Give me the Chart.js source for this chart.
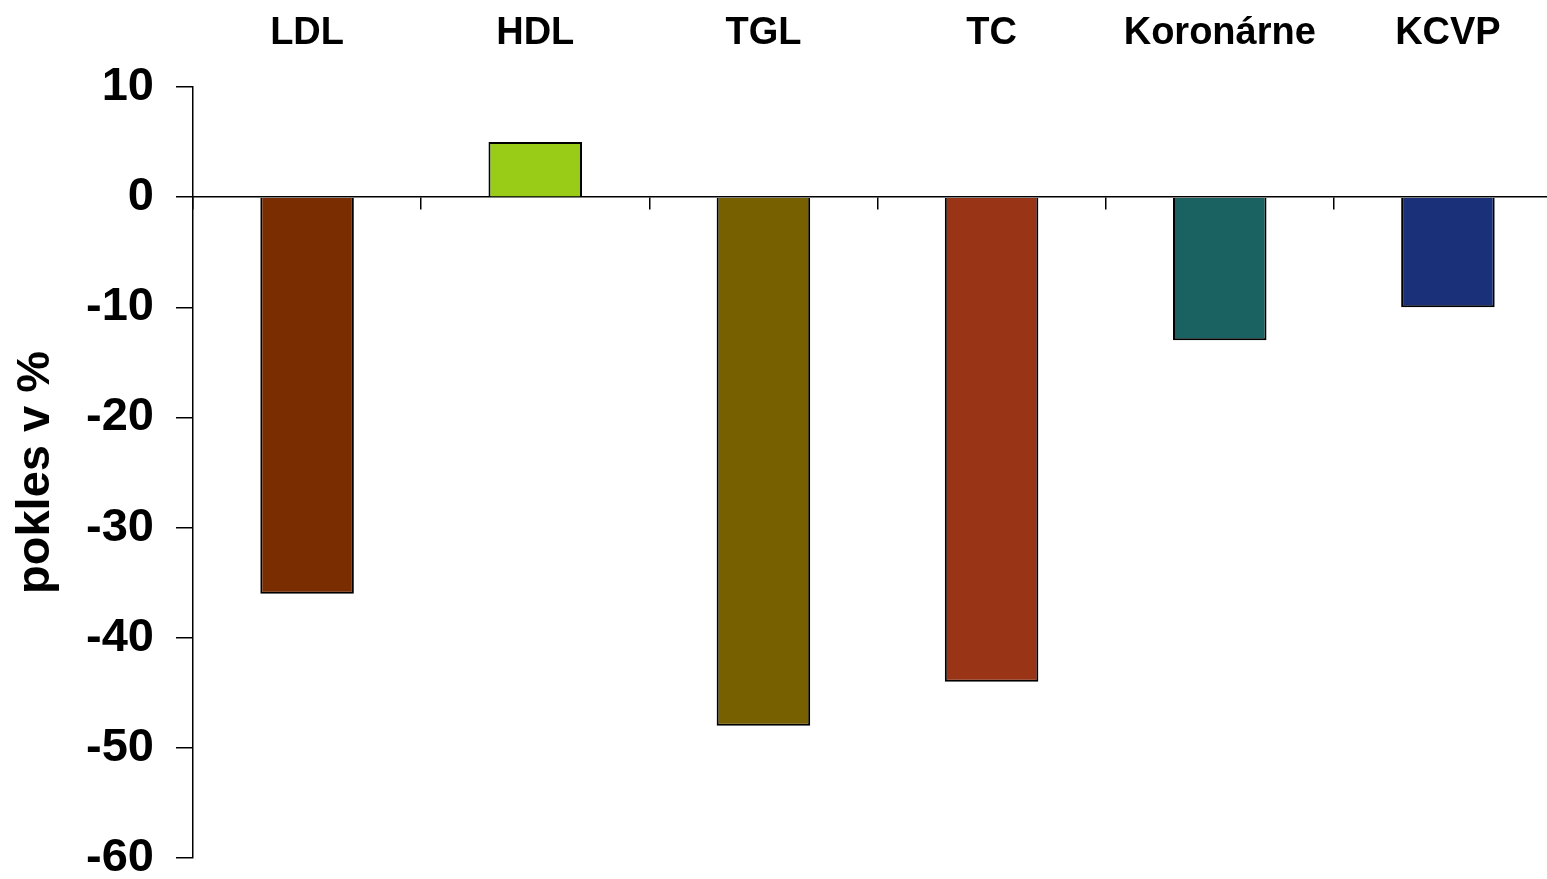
<!DOCTYPE html>
<html>
<head>
<meta charset="utf-8">
<title>pokles v %</title>
<script src="https://cdn.jsdelivr.net/npm/chart.js@4/dist/chart.umd.min.js"></script>
<style>
  html, body { margin: 0; padding: 0; background: #ffffff; overflow: hidden; }
  #wrap { position: relative; width: 1562px; height: 879px; }
</style>
</head>
<body>
<div id="wrap"><canvas id="chart"></canvas></div>
<script>
// Categories and percentage change per marker
const categories = ['LDL', 'HDL', 'TGL', 'TC', 'Koronárne', 'KCVP'];
const changes = [-36, 5, -48, -44, -13, -10];
const barColors = ['#792d00', '#99cc16', '#776000', '#993516', '#1a6161', '#1a3079'];
const yTicks = [10, 0, -10, -20, -30, -40, -50, -60];
const yTitle = 'pokles v %';

const FONT = "'Liberation Sans', Arial, Helvetica, sans-serif";

new Chart(document.getElementById('chart'), {
  type: 'bar',
  data: {
    labels: categories,
    datasets: [{
      data: changes,
      backgroundColor: barColors,
      borderColor: '#000000',
      borderWidth: 2,
      borderSkipped: 'start',
      barPercentage: 0.41,
      categoryPercentage: 1.0
    }]
  },
  options: {
    responsive: true,
    maintainAspectRatio: false,
    animation: false,
    layout: { padding: { top: 0, right: 0, bottom: 21, left: 0 } },
    plugins: {
      legend: { display: false },
      tooltip: { enabled: false }
    },
    scales: {
      x: {
        type: 'category',
        position: 'top',
        grid: { display: false, drawTicks: false },
        border: { display: false },
        ticks: {
          color: '#000000',
          font: { family: FONT, size: 38, weight: 'bold' },
          padding: 31,
          autoSkip: false,
          maxRotation: 0
        },
        afterFit: (scale) => { scale.height = 87; }
      },
      xZero: {
        type: 'category',
        labels: categories,
        position: { y: 0 },
        offset: true,
        grid: {
          display: true,
          offset: true,
          drawOnChartArea: false,
          drawTicks: true,
          tickLength: 12,
          color: '#000000',
          lineWidth: 1.5
        },
        border: { display: true, color: '#000000', width: 1.5 },
        ticks: { display: false }
      },
      y: {
        position: 'left',
        min: -60,
        max: 10,
        afterBuildTicks: (scale) => { scale.ticks = yTicks.map(v => ({ value: v })); },
        grid: {
          drawOnChartArea: false,
          drawTicks: true,
          tickLength: 17,
          color: '#000000',
          lineWidth: 1.5
        },
        border: { display: true, color: '#000000', width: 1.5 },
        ticks: {
          color: '#000000',
          font: { family: FONT, size: 47, weight: 'bold' },
          padding: 22
        },
        title: {
          display: true,
          text: yTitle,
          color: '#000000',
          font: { family: FONT, size: 47, weight: 'bold' },
          padding: { top: 8, bottom: 0 }
        },
        afterFit: (scale) => {
          scale.width = 193;
          scale.paddingTop = 0;
          scale.paddingBottom = 0;
        }
      }
    }
  }
});
</script>
</body>
</html>
